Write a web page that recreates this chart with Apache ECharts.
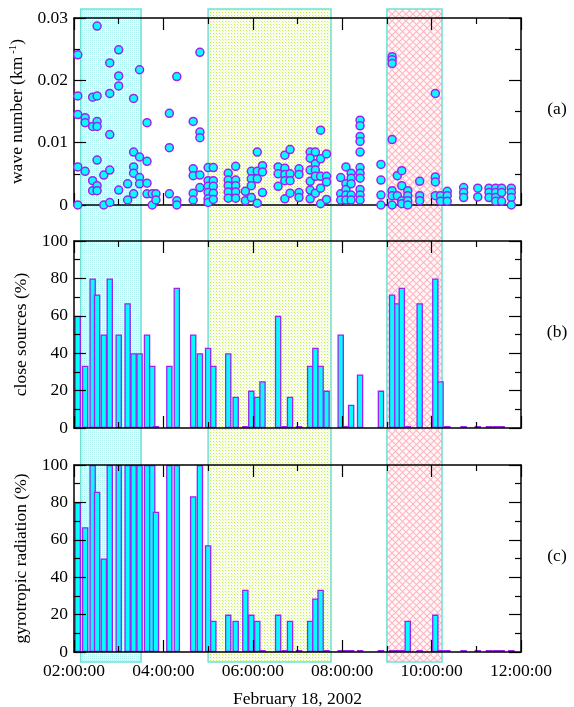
<!DOCTYPE html>
<html>
<head>
<meta charset="utf-8">
<script src="https://cdn.jsdelivr.net/npm/echarts@6/dist/echarts.min.js"></script>
<style>
  html, body { margin: 0; padding: 0; background: #fff; }
  #chart { width: 574px; height: 707px; }
</style>
</head>
<body>
<div id="chart"></div>
<script>
// observation times (UT, 18 Feb 2002)
const times = ['02:05', '02:15', '02:25', '02:31', '02:40', '02:48', '03:00', '03:12', '03:20', '03:28',
  '03:38', '03:45', '03:50', '04:08', '04:18', '04:40', '04:49', '05:00', '05:07', '05:27',
  '05:37', '05:50', '05:58', '06:06', '06:13', '06:34', '06:43', '06:50', '07:02', '07:17',
  '07:24', '07:31', '07:39', '07:58', '08:05', '08:12', '08:24', '08:52', '09:07', '09:14',
  '09:20', '09:28', '09:44', '10:05', '10:12', '10:21', '10:43', '11:02', '11:17', '11:26',
  '11:34', '11:47'];

// (b) close sources, %
const closeSources = [60, 33.3, 80, 71.4, 50, 80, 50, 66.7, 40, 40,
  50, 33.3, 0, 33.3, 75, 50, 40, 42.9, 33.3, 40,
  16.7, 0, 20, 16.7, 25, 60, 0, 16.7, 0, 33.3,
  42.9, 33.3, 20, 50, 0, 12.5, 28.6, 20, 71.4, 66.7,
  75, 0, 66.7, 80, 25, 0, 0, 0, 0, 0,
  0, null];

// (c) gyrotropic radiation, %
const gyrotropic = [80, 66.7, 100, 85.7, 50, 100, 100, 100, 100, 100,
  100, 100, 75, 100, 100, 83.3, 100, 57.1, 16.7, 20,
  16.7, 33.3, 20, 16.7, 0, 20, 0, 16.7, 0, 16.7,
  28.6, 33.3, 0, 0, 0, 0, 0, 0, 0, 0,
  0, 16.7, 0, 20, 0, 0, 0, 0, 0, 0,
  0, 0];

// (a) wave numbers found at each time, km^-1
const waveNumber = [
  [0.0241, 0.0175, 0.0145, 0.0061, 0],
  [0.0140, 0.0132, 0.0054],
  [0.0173, 0.0126, 0.0039, 0.0023],
  [0.0287, 0.0175, 0.0134, 0.0126, 0.0072, 0.0031, 0.0023],
  [0.0048, 0],
  [0.0228, 0.0179, 0.0113, 0.0056, 0.0004],
  [0.0249, 0.0207, 0.0191, 0.0024],
  [0.0034, 0.0008],
  [0.0171, 0.0085, 0.0061, 0.0051, 0.0018],
  [0.0217, 0.0077, 0.0044, 0.0034],
  [0.0132, 0.0070, 0.0035, 0.0018],
  [0.0018, 0],
  [0.0018, 0.0008],
  [0.0147, 0.0092, 0.0018],
  [0.0206, 0.0007, 0],
  [0.0134, 0.0058, 0.0047, 0.0019, 0.0008],
  [0.0245, 0.0117, 0.0108, 0.0048, 0.0028],
  [0.0060, 0.0039, 0.0030, 0.0020, 0.0010, 0.0004],
  [0.0060, 0.0039, 0.0030, 0.0019, 0.0009],
  [0.0051, 0.0040, 0.0031, 0.0021, 0.0011],
  [0.0062, 0.0040, 0.0031, 0.0021, 0.0011],
  [0.0022, 0.0007],
  [0.0054, 0.0042, 0.0031, 0.0012],
  [0.0085, 0.0054, 0.0042, 0.0003],
  [0.0063, 0.0053, 0.0020],
  [0.0061, 0.0050, 0.0030],
  [0.0080, 0.0059, 0.0049, 0.0039, 0.0010],
  [0.0089, 0.0050, 0.0039, 0.0019],
  [0.0058, 0.0049, 0.0020, 0.0012],
  [0.0085, 0.0075, 0.0056, 0.0038, 0.0024, 0.0010],
  [0.0085, 0.0066, 0.0056, 0.0046, 0.0019],
  [0.0120, 0.0074, 0.0046, 0.0027, 0.0002],
  [0.0082, 0.0046, 0.0037, 0.0009],
  [0.0044, 0.0018, 0.0008],
  [0.0061, 0.0034, 0.0025, 0.0016, 0.0008],
  [0.0051, 0.0043, 0.0034, 0.0016, 0.0008],
  [0.0136, 0.0127, 0.0110, 0.0102, 0.0085, 0.0060, 0.0051, 0.0043, 0.0025, 0.0016, 0.0008],
  [0.0065, 0.0040, 0.0016, 0],
  [0.0238, 0.0233, 0.0227, 0.0105, 0.0023, 0.0015, 0],
  [0.0047, 0.0015],
  [0.0055, 0.0031, 0.0007, 0.0002],
  [0.0023, 0.0015, 0.0007, 0],
  [0.0038, 0.0015, 0.0007],
  [0.0179, 0.0045, 0.0037, 0.0015],
  [0.0015, 0.0006],
  [0.0022, 0.0015, 0.0006],
  [0.0028, 0.0020, 0.0012],
  [0.0027, 0.0013],
  [0.0027, 0.0020, 0.0012],
  [0.0027, 0.0020, 0.0012, 0.0006],
  [0.0027, 0.0020, 0.0006],
  [0.0027, 0.0020, 0.0012, 0]
];

// shaded intervals
const shadeFrom = ['02:09', '05:00', '09:00'];
const shadeTo = ['03:30', '07:45', '10:14'];
const shadeKind = ['dots', 'green', 'hatch'];

const FONT = '"Liberation Serif", "Times New Roman", serif';
const PURPLE = '#a020f0';
const CYAN = '#00ffff';

// minutes after 02:00
function toMin(s) {
  let p = s.split(':').map(Number);
  return (p[0] - 2) * 60 + p[1];
}

function makePattern(kind) {
  let c = document.createElement('canvas');
  let ctx = c.getContext('2d');
  if (kind == 'dots') {
    c.width = 2; c.height = 2;
    ctx.fillStyle = '#e2ffff';
    ctx.fillRect(0, 0, 2, 2);
    ctx.fillStyle = '#aef0f0';
    ctx.fillRect(0, 0, 1, 1);
  } else if (kind == 'green') {
    c.width = 3; c.height = 3;
    ctx.fillStyle = '#fbfff0';
    ctx.fillRect(0, 0, 3, 3);
    ctx.fillStyle = '#c4ea4c';
    ctx.fillRect(0, 0, 1, 1);
    ctx.fillStyle = '#e6f6b0';
    ctx.fillRect(1, 1, 1, 1);
  } else {
    c.width = 7; c.height = 7;
    ctx.fillStyle = '#fff8f9';
    ctx.fillRect(0, 0, 7, 7);
    ctx.strokeStyle = '#ffb4c0';
    ctx.lineWidth = 1.1;
    ctx.beginPath();
    ctx.moveTo(0, 0); ctx.lineTo(7, 7);
    ctx.moveTo(7, 0); ctx.lineTo(0, 7);
    ctx.stroke();
  }
  return { image: c, repeat: 'repeat' };
}

function hourLabel(v) {
  let h = 2 + v / 60;
  return (h < 10 ? '0' : '') + h + ':00:00';
}

const tops = [18, 241, 465];
const panelH = 187;
const FS = 17.5;

function xAx(grid, pos, labels) {
  return {
    type: 'value', gridIndex: grid, position: pos, min: 0, max: 600, interval: 120, z: 3,
    axisLine: { show: true, onZero: false, lineStyle: { color: '#000', width: 1.5 } },
    axisTick: { show: true, inside: true, length: 12, lineStyle: { color: '#000', width: 1.2 } },
    minorTick: { show: true, splitNumber: 2, length: 6, lineStyle: { color: '#000', width: 1.2 } },
    splitLine: { show: false },
    minorSplitLine: { show: false },
    axisLabel: { show: labels, margin: 10, fontFamily: FONT, fontSize: FS, color: '#000', formatter: hourLabel },
    name: labels ? 'February 18, 2002' : '',
    nameLocation: 'middle', nameGap: 38,
    nameTextStyle: { fontFamily: FONT, fontSize: FS, color: '#000' }
  };
}

function yAx(grid, pos, max, interval, name) {
  let left = pos == 'left';
  return {
    type: 'value', gridIndex: grid, position: pos, min: 0, max: max, interval: interval, z: 3,
    axisLine: { show: true, onZero: false, lineStyle: { color: '#000', width: 1.5 } },
    axisTick: { show: true, inside: true, length: 12, lineStyle: { color: '#000', width: 1.2 } },
    minorTick: { show: true, splitNumber: 2, length: 6, lineStyle: { color: '#000', width: 1.2 } },
    splitLine: { show: false },
    minorSplitLine: { show: false },
    axisLabel: { show: left, margin: 6, fontFamily: FONT, fontSize: FS, color: '#000' },
    name: left ? name : '',
    nameLocation: 'middle', nameGap: 43,
    nameTextStyle: {
      fontFamily: FONT, fontSize: FS, color: '#000',
      rich: { sup: { fontFamily: FONT, fontSize: 11, color: '#000', verticalAlign: 'top', lineHeight: 20 } }
    }
  };
}

let grids = tops.map(t => ({ left: 74, right: 53, top: t, height: panelH, outerBoundsMode: 'none', containLabel: false }));
grids.push({ left: 74, right: 53, top: 9, bottom: 45, outerBoundsMode: 'none', containLabel: false });

let xAxes = [
  xAx(0, 'bottom', false), xAx(0, 'top', false),
  xAx(1, 'bottom', false), xAx(1, 'top', false),
  xAx(2, 'bottom', true), xAx(2, 'top', false),
  { type: 'value', gridIndex: 3, min: 0, max: 600, show: false }
];
let yAxes = [
  yAx(0, 'left', 0.03, 0.01, 'wave number (km{sup| -1})'), yAx(0, 'right', 0.03, 0.01, ''),
  yAx(1, 'left', 100, 20, 'close sources (%)'), yAx(1, 'right', 100, 20, ''),
  yAx(2, 'left', 100, 20, 'gyrotropic radiation (%)'), yAx(2, 'right', 100, 20, ''),
  { type: 'value', gridIndex: 3, min: 0, max: 1, show: false }
];

let wavePoints = [];
times.forEach((t, i) => {
  waveNumber[i].forEach(v => wavePoints.push([toMin(t), v]));
});
function barData(vals) {
  let out = [];
  times.forEach((t, i) => {
    if (vals[i] != null) out.push([toMin(t), vals[i]]);
  });
  return out;
}

let shadeAreas = shadeFrom.map((s, i) => [
  { xAxis: toMin(s), itemStyle: { color: makePattern(shadeKind[i]), borderColor: '#6fe2d6', borderWidth: 1.5 } },
  { xAxis: toMin(shadeTo[i]) }
]);

function barSeries(x, y, vals) {
  return {
    type: 'bar', xAxisIndex: x, yAxisIndex: y, z: 2,
    barWidth: 6.5, barMinHeight: 2,
    data: barData(vals),
    itemStyle: { color: CYAN, borderColor: PURPLE, borderWidth: 1.3 },
    silent: true
  };
}

let chart = echarts.init(document.getElementById('chart'), null, { renderer: 'canvas' });
let option = {
  backgroundColor: '#fff',
  animation: false,
  grid: grids,
  xAxis: xAxes,
  yAxis: yAxes,
  graphic: ['(a)', '(b)', '(c)'].map((txt, i) => ({
    type: 'text', x: 557, y: tops[i] + panelH / 2 - 2,
    style: { text: txt, fill: '#000', font: FS + 'px ' + FONT, align: 'center', verticalAlign: 'middle' }
  })),
  series: [
    {
      type: 'line', xAxisIndex: 6, yAxisIndex: 6, z: 1, silent: true,
      data: [[0, 0]], showSymbol: false, lineStyle: { opacity: 0 },
      markArea: { silent: true, data: shadeAreas }
    },
    barSeries(2, 2, closeSources),
    barSeries(4, 4, gyrotropic),
    {
      type: 'scatter', xAxisIndex: 0, yAxisIndex: 0, z: 4, silent: true,
      symbol: 'circle', symbolSize: 8,
      data: wavePoints,
      itemStyle: { color: CYAN, borderColor: PURPLE, borderWidth: 1.5, opacity: 1 }
    }
  ]
};
chart.setOption(option);
</script>
</body>
</html>
